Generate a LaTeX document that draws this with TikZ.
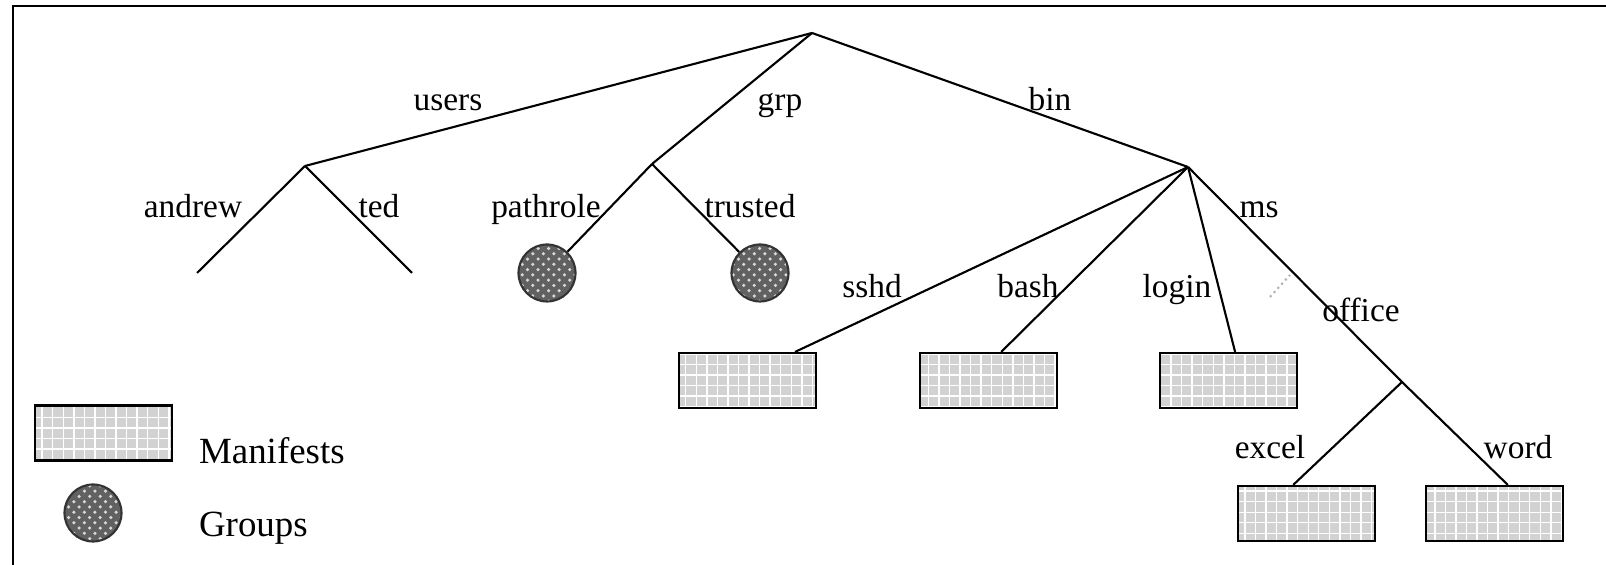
\documentclass[tikz,border=0pt]{standalone}
\usepackage{fontspec}
\setmainfont{Liberation Serif}
\usetikzlibrary{patterns}

\begin{document}
\begin{tikzpicture}[x=0.01cm, y=-0.01cm, line width=0.6pt]
	\tikzset{lbl/.style={font=\fontsize{9.5}{11}\selectfont, inner sep=0pt, anchor=base}};
	\tikzset{legend/.style={font=\fontsize{10.5}{12}\selectfont, inner sep=0pt, anchor=base west}};
	\tikzset{mfst/.style={draw=black, minimum width=1.37cm, minimum height=0.55cm, inner sep=0pt, preaction={fill=gray!35}, pattern=grid, pattern color=white}};
	\tikzset{groupnode/.style={circle, draw=black!80, minimum size=0.57cm, inner sep=0pt, preaction={fill=black!62}, pattern=crosshatch dots, pattern color=black!15}};

	\useasboundingbox (0,0) rectangle (1606,565);
	\draw[line width=0.7pt] (13,565) -- (13,6) -- (1606,6);

	\coordinate (r) at (812,33);
	\coordinate (u) at (305,166);
	\coordinate (g) at (652,164);
	\coordinate (b) at (1188,167);
	\coordinate (o) at (1402,382);
	\coordinate (an) at (197,273);
	\coordinate (te) at (412,273);

	\node[groupnode] (pr) at (547,273) {};
	\node[groupnode] (tr) at (760,273) {};
	\node[mfst] (sh) at (747.5,380.5) {};
	\node[mfst] (ba) at (988.5,380.5) {};
	\node[mfst] (lo) at (1228.5,380.5) {};
	\node[mfst] (ex) at (1306.5,513.5) {};
	\node[mfst] (wo) at (1494.5,513.5) {};

	\node[lbl] (l1) at (448,111) {users};
	\node[lbl] (l2) at (780,111) {grp};
	\node[lbl] (l3) at (1050,111) {bin};
	\node[lbl] (l4) at (193,218) {andrew};
	\node[lbl] (l5) at (379,218) {ted};
	\node[lbl] (l6) at (546,218) {pathrole};
	\node[lbl] (l7) at (750,218) {trusted};
	\node[lbl] (l8) at (1259,218) {ms};
	\node[lbl] (l9) at (872,298) {sshd};
	\node[lbl] (l10) at (1028,298) {bash};
	\node[lbl] (l11) at (1177,298) {login};
	\node[lbl] (l12) at (1361,322) {office};
	\node[lbl] (l13) at (1270,459) {excel};
	\node[lbl] (l14) at (1518,459) {word};

	% legend
	\node[mfst] (k1) at (103.5,433) {};
	\node[groupnode] (k2) at (93,513) {};
	\node[legend] (k3) at (198,464) {Manifests};
	\node[legend] (k4) at (198,537) {Groups};

	\draw (r) -- (u);
	\draw (r) -- (g);
	\draw (r) -- (b);
	\draw (u) -- (an);
	\draw (u) -- (te);
	\draw (g) -- (pr);
	\draw (g) -- (tr);
	\draw (b) -- (sh.31);
	\draw (b) -- (ba.66);
	\draw (b) -- (lo.77);
	\draw (b) -- (o) -- (wo.65);
	\draw (o) -- (ex.115);
	\draw[gray!60, densely dotted] (1270,297) -- (1290,275);
\end{tikzpicture}
\end{document}
